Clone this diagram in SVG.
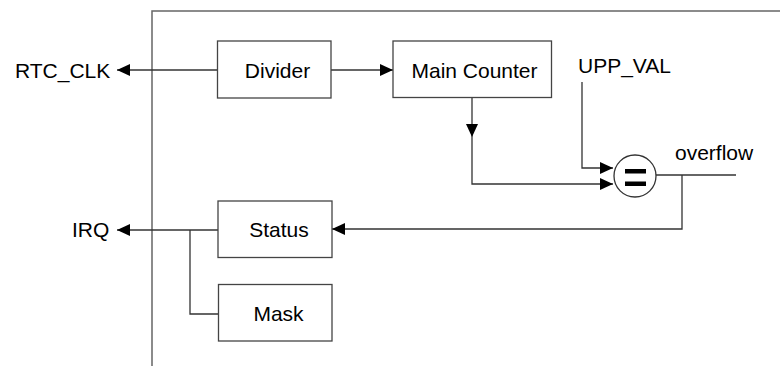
<svg xmlns="http://www.w3.org/2000/svg" width="780" height="366" viewBox="0 0 780 366">
<style>
.box{fill:#fff;stroke:#444;stroke-width:1.3}
.lbl{font-family:"Liberation Sans",Arial,sans-serif;font-size:21px;fill:#000}
.wire{fill:none;stroke:#333;stroke-width:1.3}
.frame{fill:none;stroke:#666;stroke-width:1.5}
</style>
<defs>
<marker id="ah" viewBox="0 0 13 12" refX="13" refY="6" markerWidth="13" markerHeight="12" markerUnits="userSpaceOnUse" orient="auto">
<path d="M0,0 L13,6 L0,12 Z" fill="#000"/>
</marker>
</defs>
<path class="frame" d="M152,366 V11 H780"/>
<g id="connectors">
<path class="wire" d="M217,70 H117" marker-end="url(#ah)"/>
<path class="wire" d="M331,70 H393" marker-end="url(#ah)"/>
<path class="wire" d="M472,97 V137" marker-end="url(#ah)"/>
<path class="wire" d="M472,137 V184 H613" marker-end="url(#ah)"/>
<path class="wire" d="M582,82 V168 H613" marker-end="url(#ah)"/>
<path class="wire" d="M656,175 H736"/>
<path class="wire" d="M682,175 V229 H332" marker-end="url(#ah)"/>
<path class="wire" d="M218,230 H117" marker-end="url(#ah)"/>
<path class="wire" d="M190,230 V314 H218"/>
</g>
<g id="rtc_clk"><text class="lbl" x="15" y="78">RTC_CLK</text></g>
<g id="irq"><text class="lbl" x="72" y="237">IRQ</text></g>
<g id="upp_val"><text class="lbl" x="578" y="73">UPP_VAL</text></g>
<g id="overflow"><text class="lbl" x="675" y="160">overflow</text></g>
<g id="divider"><rect class="box" x="217.5" y="41" width="113.5" height="57"/><text class="lbl" x="277.5" y="78" text-anchor="middle">Divider</text></g>
<g id="main_counter"><rect class="box" x="393" y="41" width="158.5" height="56.5"/><text class="lbl" x="474.5" y="77.5" text-anchor="middle">Main Counter</text></g>
<g id="status"><rect class="box" x="218" y="201" width="114" height="56.5"/><text class="lbl" x="279" y="237" text-anchor="middle">Status</text></g>
<g id="mask"><rect class="box" x="218.5" y="284.5" width="113.5" height="56.5"/><text class="lbl" x="278.5" y="321" text-anchor="middle">Mask</text></g>
<g id="comparator">
<circle cx="635" cy="176" r="21" fill="#fff" stroke="#333" stroke-width="1.3"/>
<rect x="625" y="169" width="21" height="4.5" fill="#000"/>
<rect x="625" y="181.5" width="21" height="4.5" fill="#000"/>
</g>
</svg>
